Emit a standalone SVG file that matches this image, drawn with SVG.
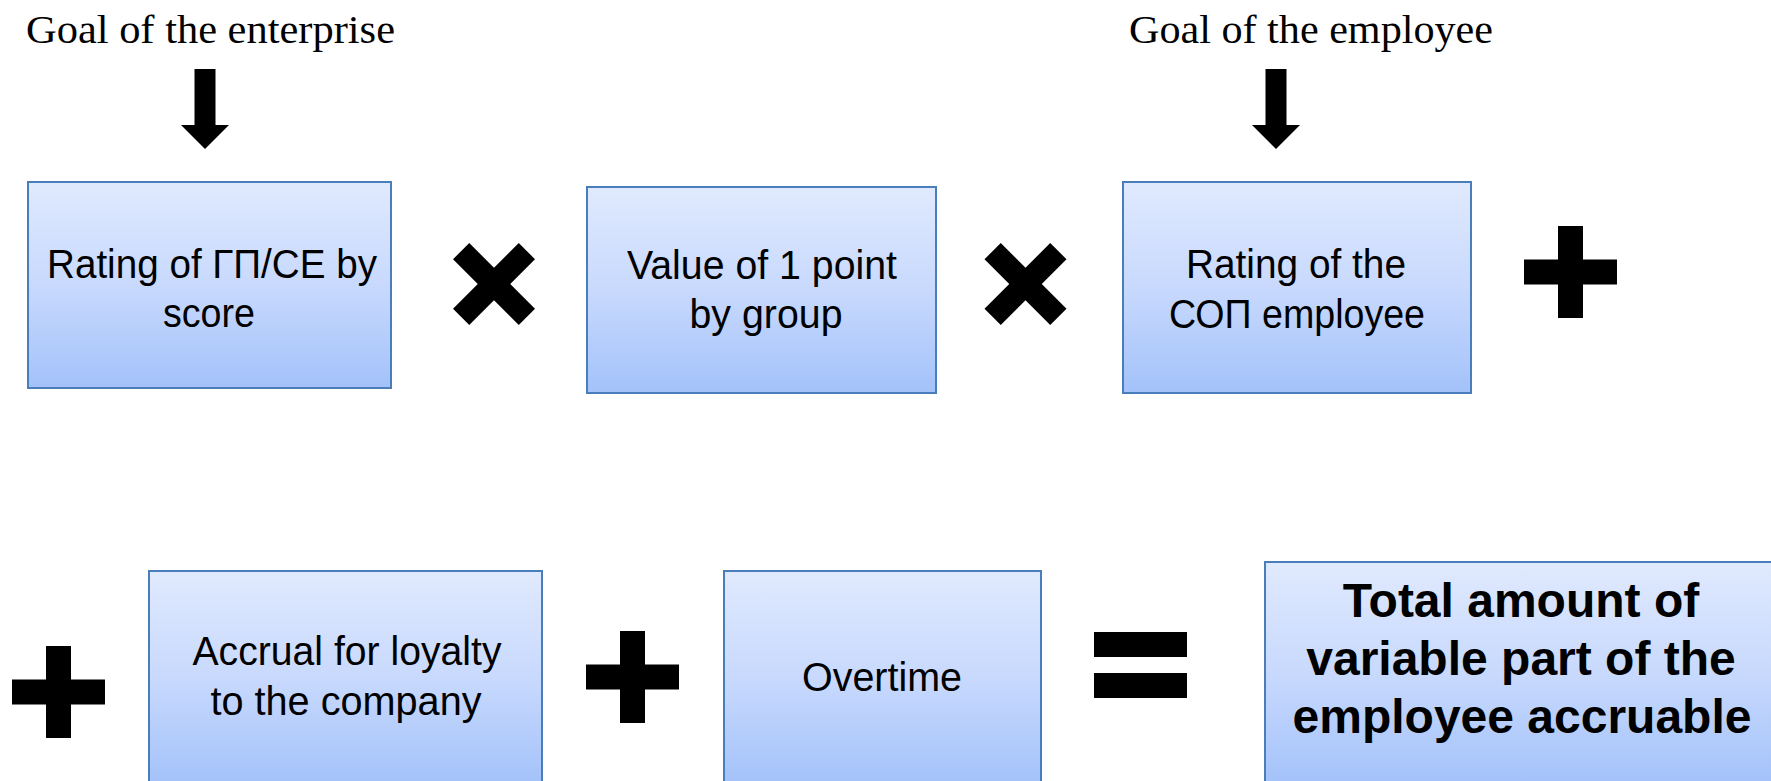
<svg xmlns="http://www.w3.org/2000/svg" xmlns:xlink="http://www.w3.org/1999/xlink" width="1771" height="781" viewBox="0 0 1771 781">
  <defs>
    <linearGradient id="boxGrad" x1="0" y1="0" x2="0" y2="1">
      <stop offset="0" stop-color="#e0eafe"/>
      <stop offset="0.5" stop-color="#c8d9fd"/>
      <stop offset="1" stop-color="#a3c2fa"/>
    </linearGradient>
    <g id="times">
      <rect x="-46.5" y="-11.5" width="93" height="23" transform="rotate(45)"/>
      <rect x="-46.5" y="-11.5" width="93" height="23" transform="rotate(-45)"/>
    </g>
    <g id="plus">
      <rect x="-46.5" y="-12.5" width="93" height="25"/>
      <rect x="-12.5" y="-46" width="25" height="92"/>
    </g>
  </defs>
  <style>
    .box { fill: url(#boxGrad); stroke: #4a7ebb; stroke-width: 2; }
    .lbl { font-family: "Liberation Sans", Arial, sans-serif; font-size: 40px; fill: #000; text-anchor: middle; }
    .big { font-family: "Liberation Sans", Arial, sans-serif; font-size: 48px; font-weight: bold; fill: #000; text-anchor: middle; }
    .head { font-family: "Liberation Serif", "Times New Roman", serif; font-size: 39px; fill: #000; }
    .sym { fill: #000; }
  </style>
  <rect width="1771" height="781" fill="#ffffff"/>

  <g id="header-enterprise">
    <text class="head" x="26" y="43" textLength="369" lengthAdjust="spacingAndGlyphs">Goal of the enterprise</text>
  </g>
  <g id="header-employee">
    <text class="head" x="1129" y="43" textLength="364" lengthAdjust="spacingAndGlyphs">Goal of the employee</text>
  </g>

  <g id="connectors" class="sym">
    <path d="M194.5,69 H215.5 V125 H229 L205,149 L181,125 H194.5 Z"/>
    <path d="M1265.5,69 H1286.5 V125 H1300 L1276,149 L1252,125 H1265.5 Z"/>
  </g>

  <g id="node-rating-gp">
    <rect class="box" x="28" y="182" width="363" height="206"/>
    <text class="lbl"><tspan x="212" y="278" textLength="330" lengthAdjust="spacingAndGlyphs">Rating of ГП/CE by</tspan><tspan x="209" y="327" textLength="92" lengthAdjust="spacingAndGlyphs">score</tspan></text>
  </g>

  <g id="op-times-1" class="sym"><use xlink:href="#times" href="#times" transform="translate(494,284)"/></g>

  <g id="node-value-point">
    <rect class="box" x="587" y="187" width="349" height="206"/>
    <text class="lbl"><tspan x="762" y="279" textLength="270" lengthAdjust="spacingAndGlyphs">Value of 1 point</tspan><tspan x="766" y="328" textLength="153" lengthAdjust="spacingAndGlyphs">by group</tspan></text>
  </g>

  <g id="op-times-2" class="sym"><use xlink:href="#times" href="#times" transform="translate(1025.5,284)"/></g>

  <g id="node-rating-employee">
    <rect class="box" x="1123" y="182" width="348" height="211"/>
    <text class="lbl"><tspan x="1296" y="278" textLength="220" lengthAdjust="spacingAndGlyphs">Rating of the</tspan><tspan x="1297" y="328" textLength="256" lengthAdjust="spacingAndGlyphs">СОП employee</tspan></text>
  </g>

  <g id="op-plus-1" class="sym"><use xlink:href="#plus" href="#plus" transform="translate(1570.5,272)"/></g>
  <g id="op-plus-2" class="sym"><use xlink:href="#plus" href="#plus" transform="translate(58.5,692)"/></g>

  <g id="node-loyalty">
    <rect class="box" x="149" y="571" width="393" height="214"/>
    <text class="lbl"><tspan x="347" y="665" textLength="309" lengthAdjust="spacingAndGlyphs">Accrual for loyalty</tspan><tspan x="346" y="715" textLength="271" lengthAdjust="spacingAndGlyphs">to the company</tspan></text>
  </g>

  <g id="op-plus-3" class="sym"><use xlink:href="#plus" href="#plus" transform="translate(632.5,677)"/></g>

  <g id="node-overtime">
    <rect class="box" x="724" y="571" width="317" height="214"/>
    <text class="lbl" x="882" y="691" textLength="160" lengthAdjust="spacingAndGlyphs">Overtime</text>
  </g>

  <g id="op-equals" class="sym">
    <rect x="1094" y="632" width="93" height="25"/>
    <rect x="1094" y="673" width="93" height="25"/>
  </g>

  <g id="node-total">
    <rect class="box" x="1265" y="562" width="515" height="223"/>
    <text class="big"><tspan x="1521" y="617">Total amount of</tspan><tspan x="1521" y="675">variable part of the</tspan><tspan x="1522" y="733">employee accruable</tspan></text>
  </g>
</svg>
